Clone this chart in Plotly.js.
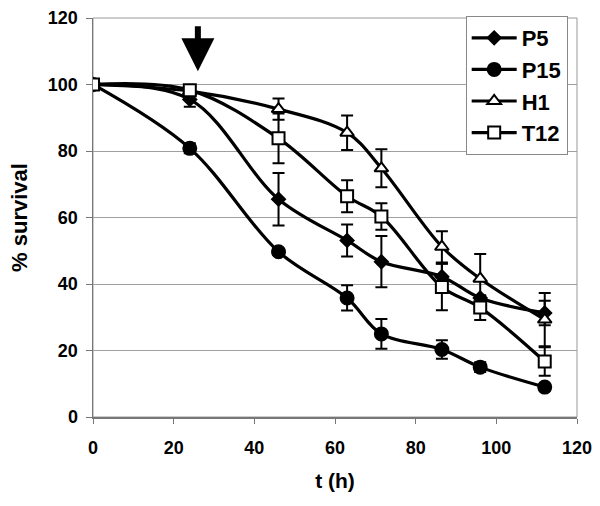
<!DOCTYPE html>
<html>
<head>
<meta charset="utf-8">
<script src="https://cdn.plot.ly/plotly-3.0.1.min.js"></script>
<style>html,body{margin:0;padding:0;background:#fff;}#chart{width:600px;height:506px;}</style>
</head>
<body>
<div id="chart"></div>
<script>
const t = [0, 24, 46, 63, 71.5, 86.5, 96, 112];

const p5 = [100, 95.5, 65.5, 53.1, 46.7, 42.2, 35.8, 31.3];
const p5Err = [0, 2.2, 7.9, 4.8, 7.7, 4, 0.5, 3.7];

const p15 = [100, 80.8, 49.7, 35.8, 25.0, 20.3, 15.0, 9.0];
const p15Err = [0, 1.5, 1, 3.8, 4.5, 2.8, 1.5, 1];

const h1 = [100, 98, 92.6, 85.5, 74.8, 51.2, 41.6, 29.3];
const h1Err = [0, 0.5, 3.2, 5.2, 5.7, 4.7, 7.4, 8];

const t12 = [100, 98.3, 83.8, 66.4, 60.3, 39.1, 32.9, 16.7];
const t12Err = [0, 0.5, 7.5, 4.8, 4, 7, 3.7, 4.3];

const names = ['P5', 'P15', 'H1', 'T12'];
const arrowX = 26, arrowTop = 118, arrowTip = 104;

const xTicks = [0, 20, 40, 60, 80, 100, 120];
const yTicks = [0, 20, 40, 60, 80, 100, 120];

function series(name, y, err, symbol, size, fill) {
  return {
    x: t, y: y, name: name, type: 'scatter', mode: 'lines+markers',
    line: {color: '#000', width: 3.2, shape: 'spline', smoothing: 1},
    marker: {symbol: symbol, size: size, color: fill, line: {color: '#000', width: 2}},
    error_y: {type: 'data', array: err, visible: true, color: '#000', thickness: 2, width: 6}
  };
}

const data = [
  series(names[0], p5, p5Err, 'diamond', 10, '#000'),
  series(names[1], p15, p15Err, 'circle', 13, '#000'),
  series(names[2], h1, h1Err, 'triangle-up', 12, '#fff'),
  series(names[3], t12, t12Err, 'square', 12, '#fff')
];

const font = {family: 'Liberation Sans, Arial, sans-serif', color: '#000'};

const layout = {
  width: 600, height: 506,
  margin: {l: 93, r: 23, t: 18, b: 89},
  paper_bgcolor: '#fff', plot_bgcolor: '#fff',
  showlegend: true,
  legend: {
    x: 0.77, y: 1.005, xanchor: 'left', yanchor: 'top',
    bordercolor: '#888', borderwidth: 1, bgcolor: '#fff',
    font: Object.assign({}, font, {size: 22, weight: 'bold'}),
    itemwidth: 45, tracegroupgap: 0
  },
  xaxis: {
    range: [0, 120], tickvals: xTicks, ticktext: xTicks.map(String),
    showgrid: false, zeroline: false,
    showline: true, linecolor: '#777', linewidth: 1.5,
    ticks: 'outside', ticklen: 5, tickcolor: '#777', tickwidth: 1,
    ticklabelstandoff: 9,
    tickfont: Object.assign({}, font, {size: 18, weight: 'bold'}),
    title: {text: 't (h)', font: Object.assign({}, font, {size: 21, weight: 'bold'}), standoff: 16}
  },
  yaxis: {
    range: [0, 120], tickvals: yTicks, ticktext: yTicks.map(String),
    showgrid: true, gridcolor: '#a0a0a0', gridwidth: 1, zeroline: false,
    showline: true, linecolor: '#777', linewidth: 1.5,
    ticks: 'outside', ticklen: 6, tickcolor: '#777', tickwidth: 1,
    ticklabelstandoff: 4,
    tickfont: Object.assign({}, font, {size: 18, weight: 'bold'}),
    title: {text: '% survival', font: Object.assign({}, font, {size: 22, weight: 'bold'}), standoff: 14}
  },
  shapes: [{
    type: 'rect', xref: 'paper', yref: 'paper', x0: 0, x1: 1, y0: 0, y1: 1,
    line: {color: '#999', width: 1}, layer: 'below'
  }],
  annotations: [{
    x: arrowX, y: arrowTip, ax: arrowX, ay: arrowTop,
    xref: 'x', yref: 'y', axref: 'x', ayref: 'y',
    showarrow: true, arrowhead: 2, arrowsize: 1.1, arrowwidth: 6, arrowcolor: '#000', text: ''
  }]
};

Plotly.newPlot('chart', data, layout, {displayModeBar: false, staticPlot: true});
</script>
</body>
</html>
